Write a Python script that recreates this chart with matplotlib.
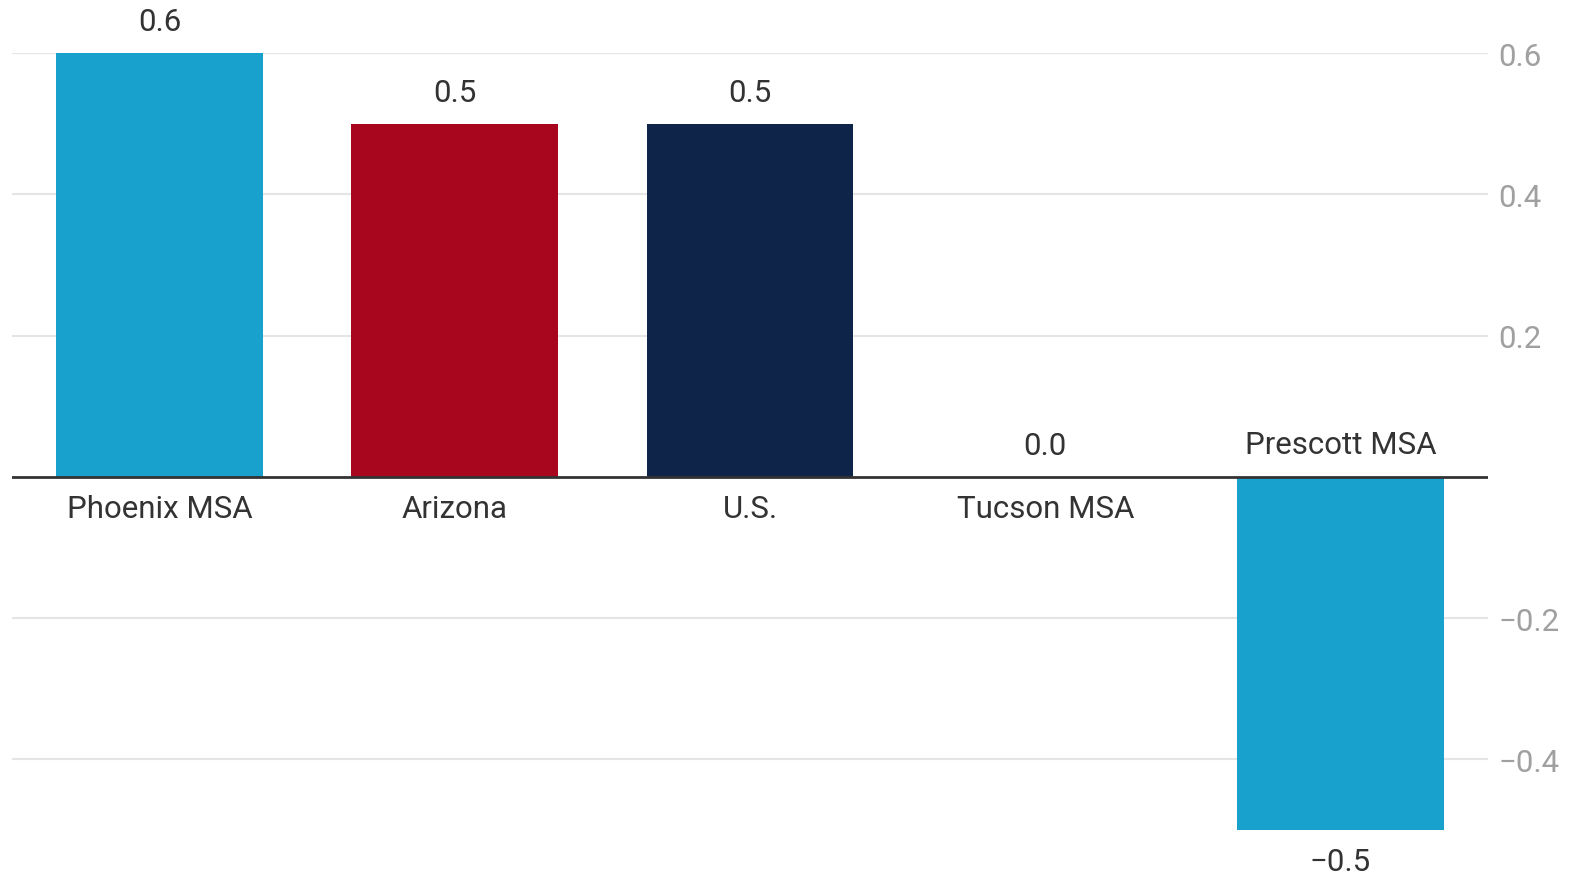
import numpy as np
import matplotlib.pyplot as plt

categories = ["Phoenix MSA", "Arizona", "U.S.", "Tucson MSA", "Prescott MSA"]
values = [0.6, 0.5, 0.5, 0.0, -0.5]
colors = ["#18a1cd", "#a8051f", "#0e2449", "#18a1cd", "#18a1cd"]
yticks = [-0.4, -0.2, 0.2, 0.4, 0.6]

plt.rcParams['font.family'] = ['Roboto', 'DejaVu Sans']

W, H = 1570, 878
fig = plt.figure(figsize=(W / 100, H / 100), dpi=100)
ax = fig.add_axes([12 / W, 1 - 831 / H, (1488 - 12) / W, (831 - 54) / H])

x = np.arange(len(categories))
ax.bar(x, values, width=0.7, color=colors, zorder=2)
ax.set_xlim(-0.5, 4.5)
ax.set_ylim(-0.5, 0.6)

for yt in yticks:
    ax.axhline(yt, color="#e5e5e5", lw=1.5, zorder=1)
ax.axhline(0, color="#333333", lw=2, zorder=3)

ax.yaxis.tick_right()
ax.set_yticks(yticks)
ax.set_yticklabels([f"{t:.1f}".replace("-", "\u2212") for t in yticks])
ax.tick_params(axis="y", length=0, pad=7.5, labelsize=22.5, labelcolor="#a0a0a0")
ax.set_xticks([])
for s in ax.spines.values():
    s.set_visible(False)

fs = 22.5
off = 22.5
for xi, v, name in zip(x, values, categories):
    txt = f"{v:.1f}".replace("-", "\u2212")
    sign = 1 if v >= 0 else -1
    ax.annotate(txt, (xi, v), xytext=(0, sign * off), textcoords="offset points",
                ha="center", va="center", fontsize=fs, color="#333333",
                annotation_clip=False)
    ax.annotate(name, (xi, 0), xytext=(0, -sign * (off + 0.5)), textcoords="offset points",
                ha="center", va="center", fontsize=fs, color="#333333",
                annotation_clip=False)

fig.savefig("out.png", dpi=100)
